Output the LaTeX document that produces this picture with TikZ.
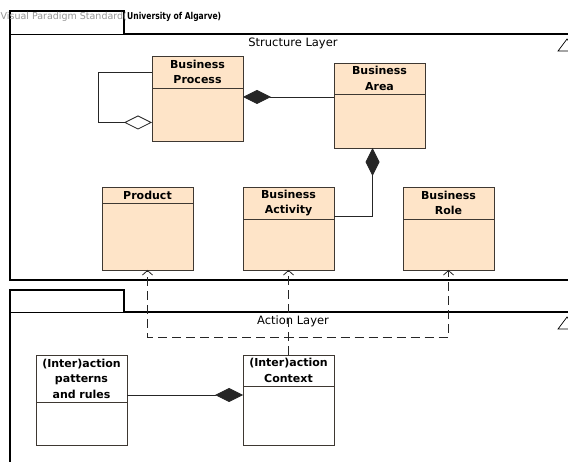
\documentclass[tikz,border=0pt]{standalone}
\usepackage{fontspec}
\setmainfont{DejaVu Sans}
\newfontfamily\narrowbf[FakeStretch=0.8]{DejaVu Sans Bold}
\usetikzlibrary{arrows.meta,positioning,calc}
\definecolor{classfill}{RGB}{254,228,200}
\definecolor{classline}{RGB}{62,56,50}
\definecolor{vpgray}{RGB}{150,150,150}

\begin{document}
\begin{tikzpicture}[
  x=1pt, y=-1pt,
  font=\fontsize{11.5}{14}\selectfont,
  >={Straight Barb[length=4.5pt,width=10pt]},
  comp/.tip={Diamond[length=28pt, width=14pt]},
  aggr/.tip={Diamond[open, fill=white, length=28pt, width=14pt]},
  head/.style={draw=classline, fill=classfill, line width=0.9pt, minimum width=91pt, text width=89pt,
    inner sep=0pt, outer sep=0pt, align=center, anchor=north west, font=\bfseries\fontsize{11}{15.5}\selectfont},
  body/.style={draw=classline, fill=classfill, line width=0.9pt, minimum width=91pt, inner sep=0pt, outer sep=0pt,
    below=0pt of #1},
  pkg/.style={line width=1.4pt},
  assoc/.style={draw=black!85, line width=0.8pt},
  dep/.style={draw=black!85, line width=0.8pt, dash pattern=on 9pt off 5pt}
]
  \useasboundingbox (0,0) rectangle (568,462);
  \clip (0,0) rectangle (568,462);

  % packages
  \draw[pkg] (600,280) -| (10,11) -| (124,34) -- (600,34);
  \draw[line width=0.6pt] (10,34) -- (124,34);
  \draw[pkg] (10,480) |- (124,290) |- (600,312);
  \draw[line width=0.6pt] (10,312) -- (124,312);
  \draw[line width=0.7pt] (558,51) -- (567,39) -- (576,51) -- cycle;
  \draw[line width=0.7pt] (558,329) -- (567,317) -- (576,329) -- cycle;

  \node[anchor=west, inner sep=0pt, text=vpgray, font=\fontsize{9.5}{11}\selectfont] (vp) at (0.5,17) {Visual Paradigm Standard(};
  \node[right=0pt of vp, inner sep=0pt, font=\narrowbf\fontsize{9.5}{11}\selectfont] (org) {University of Algarve)};

  \node (slay) at (293,43) {Structure Layer};
  \node (alay) at (293,321) {Action Layer};

  % structure layer classes
  \node[head, minimum height=32pt] (bph) at (152,56) {Business\\Process};
  \node[body=bph, minimum height=53pt] (bpb) {};
  \node[head, minimum height=31pt] (bah) at (334,63) {Business\\Area};
  \node[body=bah, minimum height=54pt] (bab) {};
  \node[head, minimum height=16pt] (prodh) at (102,187) {Product};
  \node[body=prodh, minimum height=67pt] (prodb) {};
  \node[head, minimum height=32pt] (acth) at (243,187) {Business\\Activity};
  \node[body=acth, minimum height=51pt] (actb) {};
  \node[head, minimum height=32pt] (roleh) at (403,187) {Business\\Role};
  \node[body=roleh, minimum height=51pt] (roleb) {};

  % action layer classes
  \node[head, fill=white, minimum height=47pt] (prh) at (36,355) {(Inter)action\\patterns\\and rules};
  \node[body=prh, fill=white, minimum height=43pt] (prb) {};
  \node[head, fill=white, minimum height=31pt] (ctxh) at (243,355) {(Inter)action\\Context};
  \node[body=ctxh, fill=white, minimum height=59pt] (ctxb) {};

  \coordinate (bpr) at ($(bpb.north east)+(0,9)$);
  \coordinate (bad) at ($(bab.south)+(-7,0)$);
  \coordinate (acr) at ($(acth.south east)+(0,-3)$);
  \coordinate (prr) at ($(prh.east)+(0,16.5)$);
  \coordinate (fork) at (0,337);

  \draw[assoc, -aggr] (bph.west) -- ++(-54,0) |- ($(bpb.west)+(0,8)$);
  \draw[assoc, comp-] (bpr) -- (bpr -| bab.west);
  \draw[assoc, comp-] (bad) |- (acr);
  \draw[assoc, -comp] (prr) -- (prr -| ctxb.west);

  \draw[dep, ->] (ctxh.north) -- (ctxh.north |- fork) -| (prodb.south);
  \draw[dep, ->] (ctxh.north) -- (actb.south);
  \draw[dep, ->] (ctxh.north) -- (ctxh.north |- fork) -| (roleb.south);
\end{tikzpicture}
\end{document}
